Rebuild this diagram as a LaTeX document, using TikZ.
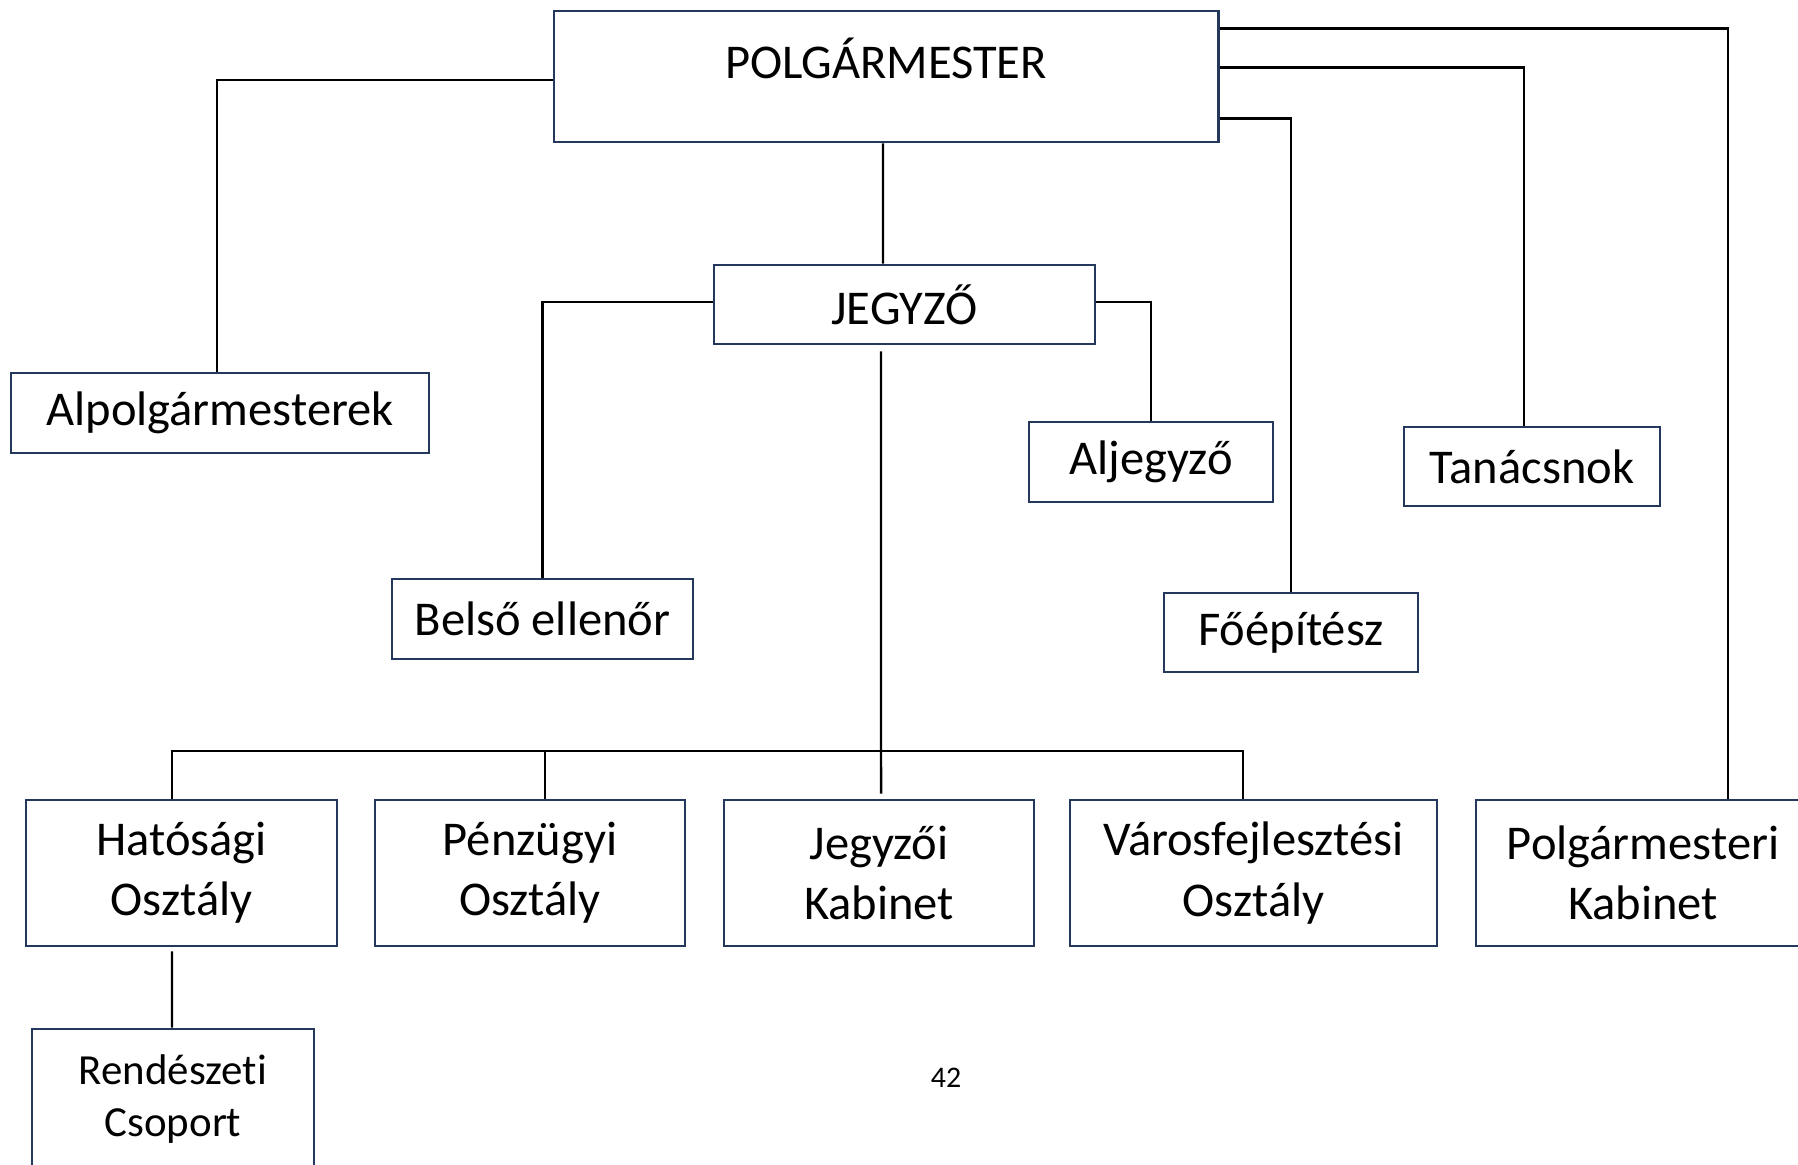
\documentclass[tikz,border=0pt]{standalone}
\usepackage{fontspec}
\setmainfont[Ligatures=NoCommon]{Carlito}
\usepackage{xcolor}
\usetikzlibrary{calc}
\definecolor{keret}{RGB}{36,56,94}
\tikzset{
  doboz/.style={draw=keret, line width=0.75pt, fill=white, inner sep=0pt, align=center,
    font=\fontsize{13.8}{17.1}\selectfont},
  kapcs/.style={line width=0.7pt, black}
}

\begin{document}
\begin{tikzpicture}[x=0.01cm,y=-0.01cm]
        %KERET
        \useasboundingbox (0,0) rectangle (1798,1165);
        \clip (0,0) rectangle (1798,1165);
        %FELSO SZINT
        \node[doboz, minimum width=6.64cm, minimum height=1.31cm,
          label={[anchor=center, yshift=-0.49cm, font=\fontsize{13.8}{17.1}\selectfont]north:POLGÁRMESTER}]
          (pm) at (886,76.5) {};
        \node[doboz, minimum width=4.18cm, minimum height=0.80cm] (alp) at (220,413) {Alpolgármesterek};
        \node[doboz, minimum width=3.81cm, minimum height=0.79cm] (jegy) at (904.5,304.5) {JEGYZŐ};
        %KOZEPSO SZINT
        \node[doboz, minimum width=3.01cm, minimum height=0.80cm] (belso) at (542.5,619) {Belső ellenőr};
        \node[doboz, minimum width=2.44cm, minimum height=0.80cm] (aljegy) at (1151,462) {Aljegyző};
        \node[doboz, minimum width=2.56cm, minimum height=0.79cm] (tan) at (1532,466.5) {Tanácsnok};
        \node[doboz, minimum width=2.54cm, minimum height=0.79cm] (foep) at (1291,632.5) {Főépítész};
        %OSZTALYOK
        \node[doboz, minimum width=3.11cm, minimum height=1.46cm] (hat) at (181.5,873) {Hatósági\\Osztály};
        \node[doboz, minimum width=3.10cm, minimum height=1.46cm] (penz) at (530,873) {Pénzügyi\\Osztály};
        \node[doboz, minimum width=3.10cm, minimum height=1.46cm] (jk) at (879,873) {Jegyzői\\Kabinet};
        \node[doboz, minimum width=3.67cm, minimum height=1.46cm] (vf) at (1253.5,873) {Városfejlesztési\\Osztály};
        \node[doboz, minimum width=3.34cm, minimum height=1.46cm] (pk) at (1643,873) {Polgármesteri\\Kabinet};
        \node[doboz, minimum width=2.82cm, minimum height=1.40cm,
          font=\fontsize{12.2}{15}\selectfont] (rend) at (173,1099) {Rendészeti\\Csoport};
        %OLDALSZAM
        \node[font=\fontsize{8.5}{10}\selectfont] (oldal) at (946,1078) {42};
        %VONALAK POLGARMESTERTOL
        \draw[kapcs] ([yshift=-0.035cm]pm.west) -| ([xshift=-0.03cm]alp.north);
        \draw[kapcs] ([yshift=-0.19cm]pm.north east) -| ([xshift=0.85cm]pk.north);
        \draw[kapcs] ([yshift=-0.58cm]pm.north east) -| ([xshift=-0.08cm]tan.north);
        \draw[kapcs] ([yshift=-1.09cm]pm.north east) -| (foep.north);
        \draw[kapcs] ([xshift=-0.03cm]pm.south) -- ([xshift=-0.215cm]jegy.north);
        %VONALAK JEGYZOTOL
        \draw[kapcs] ([yshift=0.025cm]jegy.west) -| (belso.north);
        \draw[kapcs] ([yshift=0.025cm]jegy.east) -| (aljegy.north);
        \draw[kapcs] ([xshift=-0.235cm,yshift=-0.06cm]jegy.south) -- ([xshift=0.02cm,yshift=0.05cm]jk.north);
        %GYUJTOVONAL
        \coordinate (gyujto) at (881,751);
        \draw[kapcs] ([xshift=-0.095cm]hat.north) |- (gyujto) -| ([xshift=-0.105cm]vf.north);
        \draw[kapcs] ([xshift=0.15cm]penz.north) -- ([xshift=0.15cm]penz.north |- gyujto);
        \draw[kapcs] ([xshift=-0.095cm,yshift=-0.04cm]hat.south) -- ([xshift=-0.01cm]rend.north);
\end{tikzpicture}
\end{document}
